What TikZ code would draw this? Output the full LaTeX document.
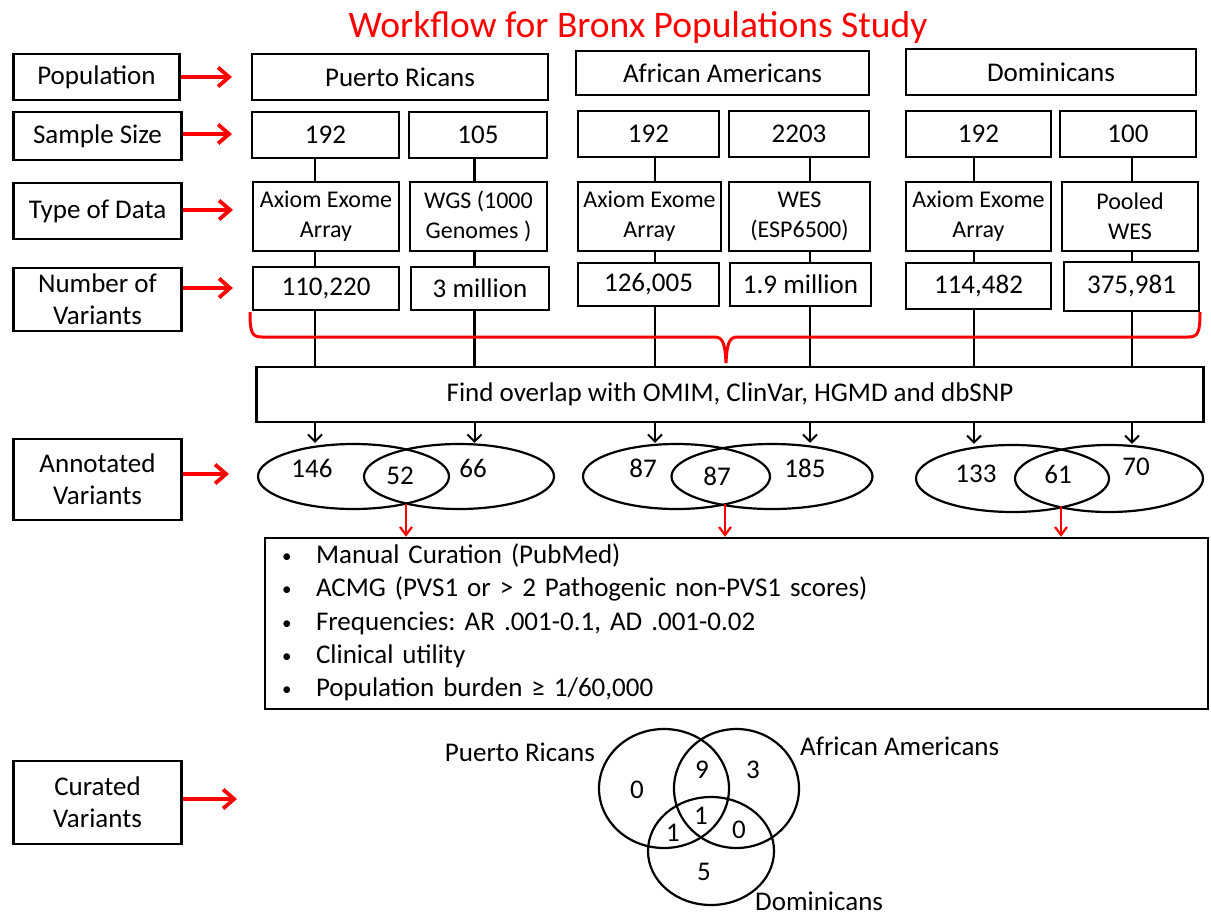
\documentclass[tikz,border=0pt]{standalone}
\usepackage{fontspec}
\setmainfont{Carlito}
\usepackage{tikz}
\usetikzlibrary{arrows.meta, shapes.geometric}
\definecolor{flowRed}{RGB}{255,0,0}
\newcommand{\dotmark}{{\fontsize{19}{19}\selectfont\raisebox{1pt}{\textbullet}}}
\tikzset{
  cell/.style 2 args={draw, line width=2.4pt, minimum width=#1pt, minimum height=#2pt,
    inner sep=0pt, align=center, font=\fontsize{27}{32}\selectfont},
  small/.style={font=\fontsize{24}{30}\selectfont},
  oval/.style 2 args={draw, ellipse, line width=2.2pt, minimum width=#1pt, minimum height=#2pt, inner sep=0pt},
  count/.style={inner sep=0pt, font=\fontsize{27}{32}\selectfont},
  lane/.style={line width=2.2pt},
  flow/.style={line width=2pt, -{Straight Barb[length=7pt,width=14pt]}},
  pointer/.style={draw=flowRed, line width=3.8pt, -{Straight Barb[length=11pt,width=19pt]}},
  pick/.style={draw=flowRed, line width=2.2pt, -{Straight Barb[length=8pt,width=12pt]}},
  brace/.style={draw=flowRed, line width=3pt},
}

\begin{document}
\begin{tikzpicture}[x=1pt, y=-1pt]
  \useasboundingbox (0,0) rectangle (1211,916);

  \node[font=\fontsize{37.5}{44}\selectfont, text=flowRed] (title) at (638,27) {Workflow for Bronx Populations Study};

  % row labels on the left
  \node[cell={166}{46}] (popLbl) at (96.5,77) {Population};
  \node[cell={168}{48}] (sizeLbl) at (97.5,136) {Sample Size};
  \node[cell={168}{56}] (typeLbl) at (97.5,211) {Type of Data};
  \node[cell={168}{63}] (numLbl) at (97.5,299.5) {Number of\\Variants};
  \node[cell={168}{81}] (annLbl) at (97.5,479.5) {Annotated\\Variants};
  \node[cell={168}{83}] (curLbl) at (97.5,802.5) {Curated\\Variants};

  \coordinate (popTip) at (232,77);
  \coordinate (sizeTip) at (232,134);
  \coordinate (typeTip) at (233,210);
  \coordinate (numTip) at (233,288);
  \coordinate (annTip) at (229,474);
  \coordinate (curTip) at (237,799);
  \foreach \lbl in {pop,size,type,num,ann,cur}
    \draw[pointer] (\lbl Lbl.east |- \lbl Tip) -- (\lbl Tip);

  % populations
  \node[cell={296}{46}] (pr) at (400,77) {Puerto Ricans};
  \node[cell={293}{44}] (aa) at (722.5,73) {African Americans};
  \node[cell={290}{46}] (dom) at (1051,72) {Dominicans};

  % sample size
  \node[cell={147}{46}] (prN1) at (325.5,135) {192};
  \node[cell={138}{46}] (prN2) at (478,135) {105};
  \node[cell={141}{46}] (aaN1) at (648.5,134) {192};
  \node[cell={140}{46}] (aaN2) at (799,134) {2203};
  \node[cell={145}{46}] (domN1) at (978.5,134) {192};
  \node[cell={136}{46}] (domN2) at (1128,134) {100};

  % type of data
  \node[cell={146}{69}, small] (prD1) at (326,216.5) {Axiom Exome\\Array};
  \node[cell={137}{69}, small] (prD2) at (478.5,216.5) {WGS (1000\\Genomes )};
  \node[cell={143}{69}, small] (aaD1) at (649.5,216.5) {Axiom Exome\\Array};
  \node[cell={141}{69}, small] (aaD2) at (799.5,216.5) {WES\\(ESP6500)};
  \node[cell={145}{69}, small] (domD1) at (978.5,216.5) {Axiom Exome\\Array};
  \node[cell={136}{69}, small] (domD2) at (1130,216.5) {Pooled\\WES};

  % number of variants
  \node[cell={146}{43}] (prV1) at (326,288.5) {110,220};
  \node[cell={138}{43}] (prV2) at (480,288.5) {3 million};
  \node[cell={141}{43}] (aaV1) at (648.5,284.5) {126,005};
  \node[cell={141}{43}] (aaV2) at (800.5,284.5) {1.9 million};
  \node[cell={145}{46}] (domV1) at (978.5,286) {114,482};
  \node[cell={135}{49}] (domV2) at (1131.5,286.5) {375,981};

  \node[cell={947}{55}] (overlap) at (730,394.5) {Find overlap with OMIM, ClinVar, HGMD and dbSNP};

  % annotated variants
  \node[oval={191}{65}] (prE1) at (353.5,476.5) {};
  \node[oval={190}{65}] (prE2) at (459,476.5) {};
  \node[oval={187}{65}] (aaE1) at (676.5,476.5) {};
  \node[oval={201}{65}] (aaE2) at (772,476.5) {};
  \node[oval={193}{67}] (domE1) at (1012.5,478.5) {};
  \node[oval={188}{67}] (domE2) at (1109,478.5) {};

  \node[count] (prOnly) at (312,468) {146};
  \node[count] (prBoth) at (400,476) {52};
  \node[count] (prWgs) at (473,468) {66};
  \node[count] (aaOnly) at (643,468) {87};
  \node[count] (aaBoth) at (717,476) {87};
  \node[count] (aaWes) at (805,468) {185};
  \node[count] (domOnly) at (976,474) {133};
  \node[count] (domBoth) at (1058,474) {61};
  \node[count] (domWes) at (1136,467) {70};

  \coordinate (c1) at (315,0);
  \coordinate (c2) at (474.5,0);
  \coordinate (c3) at (655,0);
  \coordinate (c4) at (810,0);
  \coordinate (c5) at (974,0);
  \coordinate (c6) at (1132,0);
  \foreach \grp/\k/\col in {pr/1/c1, pr/2/c2, aa/1/c3, aa/2/c4, dom/1/c5, dom/2/c6} {
    \draw[lane] (\grp N\k.south -| \col) -- (\grp D\k.north -| \col);
    \draw[lane] (\grp D\k.south -| \col) -- (\grp V\k.north -| \col);
    \draw[lane] (\grp V\k.south -| \col) -- (\col |- overlap.north);
    \draw[flow] (\col |- overlap.south) -- (\col |- \grp E\k.north);
  }

  \draw[brace] (250,312) .. controls (250,333) and (252,337) .. (262,337) -- (714,337)
    .. controls (722,337) and (725,341) .. (726,363)
    .. controls (727,341) and (730,337) .. (738,337) -- (1188,337)
    .. controls (1198,337) and (1200,333) .. (1200,312);

  % curation criteria
  \node[cell={943}{171}, align=left, text width=909pt, inner xsep=17pt,
    font=\fontsize{27}{33.2}\selectfont\frenchspacing] (notes) at (736.5,623.5)
    {\begin{tabular}{@{}p{34pt}@{}l@{}}
     \dotmark & Manual Curation (PubMed)\\
     \dotmark & ACMG (PVS1 or > 2 Pathogenic non-PVS1 scores)\\
     \dotmark & Frequencies: AR .001-0.1, AD .001-0.02\\
     \dotmark & Clinical utility\\
     \dotmark & Population burden ≥ 1/60,000
     \end{tabular}};

  \coordinate (prX) at (406,504);
  \coordinate (aaX) at (725,504);
  \coordinate (domX) at (1061,506);
  \foreach \x in {prX,aaX,domX}
    \draw[pick] (\x) -- (\x |- notes.north);

  % curated variants
  \node[oval={130}{119}] (vPR) at (664,788.5) {};
  \node[oval={125}{119}] (vAA) at (736.5,788.5) {};
  \node[oval={126}{108}] (vDom) at (711,851) {};
  \node[count, anchor=east] (vPRname) at (595,752) {Puerto Ricans};
  \node[count, anchor=west] (vAAname) at (800,746) {African Americans};
  \node[count, anchor=west] (vDomname) at (755,901) {Dominicans};
  \node[count] (vPRonly) at (637,790) {0};
  \node[count] (vPRAA) at (702,770) {9};
  \node[count] (vAAonly) at (753,770) {3};
  \node[count] (vAll) at (701,816) {1};
  \node[count] (vPRDom) at (673,833) {1};
  \node[count] (vAADom) at (739,830) {0};
  \node[count] (vDomonly) at (704,872) {5};
\end{tikzpicture}
\end{document}
